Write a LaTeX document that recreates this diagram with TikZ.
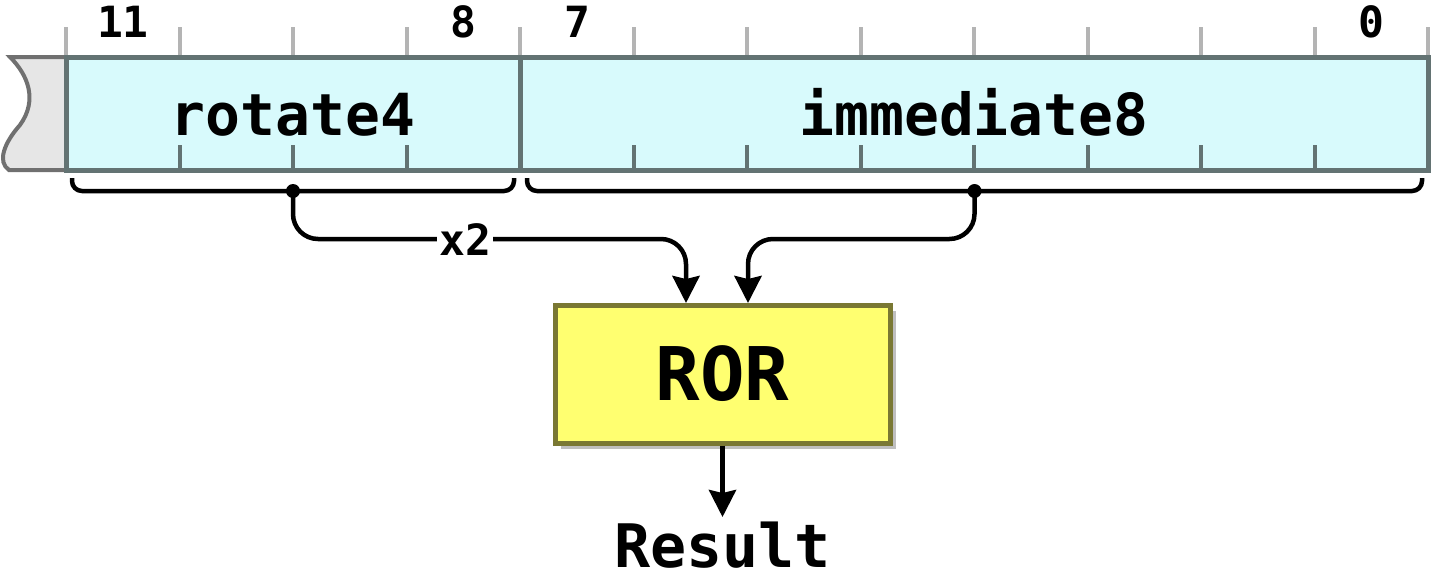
\documentclass[tikz,border=0pt]{standalone}
\usepackage{fontspec}
\setmainfont{DejaVu Sans Mono}
\usetikzlibrary{arrows.meta}
\definecolor{fieldfill}{HTML}{D8FAFC}
\definecolor{fielddraw}{HTML}{637373}
\definecolor{tickgray}{HTML}{B4B4B4}
\definecolor{stubfill}{HTML}{E6E6E6}
\definecolor{stubdraw}{HTML}{707070}
\definecolor{rorfill}{HTML}{FFFF70}
\definecolor{rordraw}{HTML}{7A7833}
\tikzset{
  fieldtext/.style={font=\fontsize{58}{60}\selectfont\bfseries, inner sep=0pt},
  bitlabel/.style={font=\fontsize{43}{45}\selectfont\bfseries, inner sep=0pt},
  rorbox/.style={draw=rordraw, fill=rorfill, line width=5pt, minimum width=335pt, minimum height=138pt, inner sep=0pt, font=\fontsize{74}{76}\selectfont\bfseries},
  conn/.style={line width=4.5pt, draw=black},
  tip/.style={-{Stealth[length=27pt,width=27pt,inset=3pt]}},
  brace/.style={line width=4.5pt, rounded corners=10pt},
  toptick/.style={line width=4pt, draw=tickgray},
  bottick/.style={line width=4pt, draw=fielddraw},
}
\begin{document}
\begin{tikzpicture}[x=1pt,y=-1pt]
\useasboundingbox (0,0) rectangle (1431,576);
% top ticks
\foreach \k in {0,...,12} {
  \draw[toptick] ({66+113.5*\k},27) -- ({66+113.5*\k},57);
}
% left stub
\draw[fill=stubfill, draw=stubdraw, line width=4pt]
  (66,57) -- (10,57) .. controls (28,75) and (38,100) .. (20,125)
  .. controls (4,143) and (-3,162) .. (9,170) -- (66,170);
% field box
\fill[fieldfill] (66,57) rectangle (1428,170);
\foreach \k in {1,2,3,5,6,7,8,9,10,11} {
  \draw[bottick] ({66+113.5*\k},145) -- ({66+113.5*\k},170);
}
\draw[line width=5pt, draw=fielddraw] (66,57) rectangle (1428,170);
\draw[line width=5pt, draw=fielddraw] (520,57) -- (520,170);
% bit labels
\node[bitlabel, anchor=base] (b11) at (123,37) {11};
\node[bitlabel, anchor=base] (b8) at (463,37) {8};
\node[bitlabel, anchor=base] (b7) at (577,37) {7};
\node[bitlabel, anchor=base] (b0) at (1371,37) {0};
% field names
\node[fieldtext, anchor=base] (rot) at (293,135) {rotate4};
\node[fieldtext, anchor=base] (imm) at (974,135) {immediate8};
% braces
\draw[brace] (72,178) -- (72,191) -- (514,191) -- (514,178);
\draw[brace] (527,178) -- (527,191) -- (1422,191) -- (1422,178);
\coordinate (rdot) at (293,191);
\coordinate (idot) at (974.5,191);
\fill (rdot) circle (7pt);
\fill (idot) circle (7pt);
% ROR box
\fill[gray, opacity=0.5] (561,311) rectangle (896,449);
\node[rorbox] (ror) at (722.5,374) {ROR};
\coordinate (lin) at (686,303);
\coordinate (rin) at (748,303);
\coordinate (lmid) at (686,239);
\coordinate (rmid) at (748,239);
\draw[conn, tip, rounded corners=25pt] (rdot) -- (rdot |- lmid) -- (lmid) -- (lin);
\draw[conn, tip, rounded corners=25pt] (idot) -- (idot |- rmid) -- (rmid) -- (rin);
\node[bitlabel, fill=white, inner xsep=2pt, inner ysep=0pt, anchor=base] (x2) at (465,255) {x2};
% result
\node[fieldtext, font=\fontsize{60}{62}\selectfont\bfseries, anchor=base] (res) at (722.5,567) {Result};
\coordinate (rout) at (722.5,517);
\draw[conn, tip] (ror.south) -- (rout);
\end{tikzpicture}
\end{document}
